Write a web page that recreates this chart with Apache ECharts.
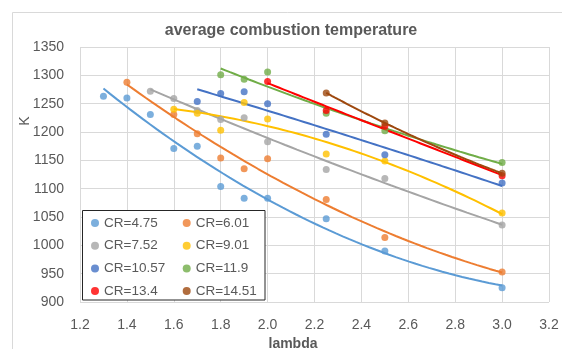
<!DOCTYPE html>
<html>
<head>
<meta charset="utf-8">
<script src="https://cdn.jsdelivr.net/npm/echarts@6/dist/echarts.min.js"></script>
<style>html,body{margin:0;padding:0;background:#fff}#c{width:562px;height:349px}</style>
</head>
<body>
<div id="c"></div>
<script>
// ---- data ----
var seriesNames = ['CR=4.75','CR=6.01','CR=7.52','CR=9.01','CR=10.57','CR=11.9','CR=13.4','CR=14.51'];
var seriesColors = ['#5B9BD5','#ED7D31','#A5A5A5','#FFC000','#4472C4','#70AD47','#FF0000','#9E480E'];

var lambdaCR475  = [1.3, 1.4, 1.5, 1.6, 1.7, 1.8, 1.9, 2.0, 2.25, 2.5, 3.0];
var tempCR475    = [1263, 1260, 1231, 1171, 1175, 1104, 1083, 1083, 1047, 990, 925];
var lambdaCR601  = [1.4, 1.6, 1.7, 1.8, 1.9, 2.0, 2.25, 2.5, 3.0];
var tempCR601    = [1288, 1231, 1197, 1154, 1135, 1153, 1081, 1014, 953];
var lambdaCR752  = [1.5, 1.6, 1.7, 1.8, 1.9, 2.0, 2.25, 2.5, 3.0];
var tempCR752    = [1272, 1259, 1238, 1222, 1225, 1183, 1134, 1118, 1036];
var lambdaCR901  = [1.6, 1.7, 1.8, 1.9, 2.0, 2.25, 2.5, 3.0];
var tempCR901    = [1240, 1233, 1203, 1252, 1223, 1161, 1149, 1057];
var lambdaCR1057 = [1.7, 1.8, 1.9, 2.0, 2.25, 2.5, 3.0];
var tempCR1057   = [1254, 1268, 1271, 1250, 1196, 1160, 1110];
var lambdaCR119  = [1.8, 1.9, 2.0, 2.25, 2.5, 3.0];
var tempCR119    = [1301, 1293, 1306, 1233, 1202, 1146];
var lambdaCR134  = [2.0, 2.25, 2.5, 3.0];
var tempCR134    = [1289, 1238, 1210, 1123];
var lambdaCR1451 = [2.25, 2.5, 3.0];
var tempCR1451   = [1269, 1216, 1127];

var xTicks = [1.2, 1.4, 1.6, 1.8, 2.0, 2.2, 2.4, 2.6, 2.8, 3.0, 3.2];
var yTicks = [900, 950, 1000, 1050, 1100, 1150, 1200, 1250, 1300, 1350];

var allLambda = [lambdaCR475, lambdaCR601, lambdaCR752, lambdaCR901, lambdaCR1057, lambdaCR119, lambdaCR134, lambdaCR1451];
var allTemp   = [tempCR475, tempCR601, tempCR752, tempCR901, tempCR1057, tempCR119, tempCR134, tempCR1451];

// least-squares polynomial (order 2) trendline, as in the spreadsheet chart
function polyfit2(xs, ys) {
  var n = xs.length, S = [0,0,0,0,0], T = [0,0,0];
  for (var i = 0; i < n; i++) {
    var x = xs[i], p = 1;
    for (var k = 0; k < 5; k++) { S[k] += p; if (k < 3) T[k] += p * ys[i]; p *= x; }
  }
  var A = [[S[0],S[1],S[2],T[0]],[S[1],S[2],S[3],T[1]],[S[2],S[3],S[4],T[2]]];
  for (var c = 0; c < 3; c++) {
    var piv = c;
    for (var r = c+1; r < 3; r++) if (Math.abs(A[r][c]) > Math.abs(A[piv][c])) piv = r;
    var tmp = A[c]; A[c] = A[piv]; A[piv] = tmp;
    for (var r2 = 0; r2 < 3; r2++) {
      if (r2 === c) continue;
      var f = A[r2][c] / A[c][c];
      for (var k2 = c; k2 < 4; k2++) A[r2][k2] -= f * A[c][k2];
    }
  }
  return [A[0][3]/A[0][0], A[1][3]/A[1][1], A[2][3]/A[2][2]];
}
function trend(xs, ys) {
  var co = polyfit2(xs, ys), out = [];
  var x0 = xs[0], x1 = xs[xs.length-1], steps = 60;
  for (var i = 0; i <= steps; i++) {
    var x = x0 + (x1 - x0) * i / steps;
    out.push([x, co[0] + co[1]*x + co[2]*x*x]);
  }
  return out;
}

var series = [];
for (var s = 0; s < seriesNames.length; s++) {
  series.push({
    name: 'trend ' + seriesNames[s], type: 'line', data: trend(allLambda[s], allTemp[s]),
    showSymbol: false, symbol: 'none', smooth: false, z: 2, silent: true,
    lineStyle: { color: seriesColors[s], width: 2 }
  });
}
for (var s2 = 0; s2 < seriesNames.length; s2++) {
  series.push({
    name: seriesNames[s2], type: 'scatter', symbol: 'circle', symbolSize: 7, z: 3,
    itemStyle: { color: seriesColors[s2] },
    data: allLambda[s2].map(function (x, i) { return [x, allTemp[this][i]]; }, s2)
  });
}

var chart = echarts.init(document.getElementById('c'), null, { renderer: 'canvas' });
chart.setOption({
  animation: false,
  backgroundColor: '#fff',
  title: {
    text: 'average combustion temperature', left: 291, top: 23, padding: 0, textAlign: 'center',
    textStyle: { fontFamily: 'Liberation Sans', fontSize: 16, fontWeight: 'bold', color: '#595959', lineHeight: 16 }
  },
  grid: { left: 80, right: 13, top: 47, bottom: 47, containLabel: false, outerBoundsMode: 'none' },
  xAxis: {
    type: 'value', min: xTicks[0], max: xTicks[xTicks.length-1], interval: 0.2,
    axisLine: { show: false }, axisTick: { show: false },
    splitLine: { show: true, lineStyle: { color: '#d9d9d9', width: 1 } },
    axisLabel: { fontFamily: 'Liberation Sans', fontSize: 14, color: '#595959', margin: 16,
      formatter: function (v) { return v.toFixed(1); } },
    name: 'lambda', nameLocation: 'middle', nameGap: 34,
    nameTextStyle: { fontFamily: 'Liberation Sans', fontSize: 14, fontWeight: 'bold', color: '#595959', padding: [0, 43, 0, 0] }
  },
  yAxis: {
    type: 'value', min: yTicks[0], max: yTicks[yTicks.length-1], interval: 50,
    axisLine: { show: false }, axisTick: { show: false },
    splitLine: { show: true, lineStyle: { color: '#d9d9d9', width: 1 } },
    axisLabel: { fontFamily: 'Liberation Sans', fontSize: 14, color: '#595959', margin: 16,
      formatter: function (v) { return String(v); } }
  },
  legend: {
    data: seriesNames, left: 91, top: 216, width: 180, padding: 0, z: 5,
    orient: 'horizontal', itemGap: 8.7, itemWidth: 8, itemHeight: 8, icon: 'circle',
    textStyle: { fontFamily: 'Liberation Sans', fontSize: 13.5, color: '#595959', width: 70, lineHeight: 13 }
  },
  graphic: [
    { type: 'line', silent: true, z: 1, shape: { x1: 12.5, y1: 12.5, x2: 562, y2: 12.5 }, style: { stroke: '#d9d9d9', lineWidth: 1 } },
    { type: 'line', silent: true, z: 1, shape: { x1: 12.5, y1: 12.5, x2: 12.5, y2: 349 }, style: { stroke: '#d9d9d9', lineWidth: 1 } },
    { type: 'rect', silent: true, z: 4, shape: { x: 82.5, y: 210.5, width: 182.5, height: 89.5 }, style: { fill: '#fff', stroke: '#262626', lineWidth: 1 } },
    { type: 'text', silent: true, z: 4, x: 25, y: 121, rotation: Math.PI / 2,
      style: { text: 'K', align: 'center', verticalAlign: 'middle', font: '14px Liberation Sans', fill: '#595959' } }
  ],
  series: series
});
</script>
</body>
</html>
